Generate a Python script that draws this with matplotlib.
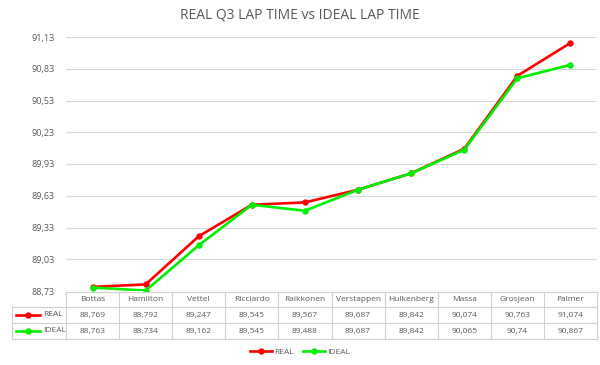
import matplotlib
matplotlib.use("Agg")
import matplotlib.pyplot as plt
import matplotlib.transforms as mtransforms
from matplotlib.lines import Line2D

drivers = ["Bottas", "Hamilton", "Vettel", "Ricciardo", "Raikkonen", "Verstappen",
           "Hulkenberg", "Massa", "Grosjean", "Palmer"]
real = [88.769, 88.792, 89.247, 89.545, 89.567, 89.687, 89.842, 90.074, 90.763, 91.074]
ideal = [88.763, 88.734, 89.162, 89.545, 89.488, 89.687, 89.842, 90.065, 90.74, 90.867]
real_labels = ["88,769", "88,792", "89,247", "89,545", "89,567", "89,687", "89,842", "90,074", "90,763", "91,074"]
ideal_labels = ["88,763", "88,734", "89,162", "89,545", "89,488", "89,687", "89,842", "90,065", "90,74", "90,867"]
yticks = [88.73, 89.03, 89.33, 89.63, 89.93, 90.23, 90.53, 90.83, 91.13]

plt.rcParams['font.family'] = ['Open Sans', 'DejaVu Sans']
TXT = "#595959"
GRID = "#d9d9d9"
RED = "#ff0000"
GREEN = "#00ee00"

fig = plt.figure(figsize=(6.0, 3.65), dpi=100)
ax = fig.add_axes([66/600, 1-291/365, (597-66)/600, (291-37)/365])

x = list(range(len(drivers)))
ax.plot(x, real, color=RED, lw=1.9, marker='o', ms=3.6, zorder=3, solid_capstyle='round')
ax.plot(x, ideal, color=GREEN, lw=1.9, marker='o', ms=3.6, zorder=3, solid_capstyle='round')

ax.set_xlim(-0.5, len(drivers)-0.5)
ax.set_ylim(yticks[0], yticks[-1])
ax.set_yticks(yticks)
ax.set_yticklabels([f"{v:.2f}".replace('.', ',') for v in yticks], fontsize=6.5, color=TXT)
ax.tick_params(axis='y', length=0, pad=8)
ax.set_xticks([])
ax.grid(axis='y', color=GRID, lw=0.8)
for s in ax.spines.values():
    s.set_visible(False)

fig.text(0.5, 1-15/365, "REAL Q3 LAP TIME vs IDEAL LAP TIME", ha='center', va='center',
         fontsize=10, color=TXT)

# table (x in data coords, y in axes coords)
trans = mtransforms.blended_transform_factory(ax.transData, ax.transAxes)
H = 254.0
def ya(py):
    return (291 - py) / H
rows_y = [292, 307, 323, 339]
lc = "#d0d0d0"
xl = -0.5 - (66 - 12) / (531 / 10)
ax.plot([-0.5, 9.5], [ya(rows_y[0])]*2, transform=trans, color=lc, lw=0.8, clip_on=False)
for yy in rows_y[1:]:
    ax.plot([xl, 9.5], [ya(yy)]*2, transform=trans, color=lc, lw=0.8, clip_on=False)
for i in range(11):
    ax.plot([i-0.5]*2, [ya(rows_y[0]), ya(rows_y[3])], transform=trans, color=lc, lw=0.8, clip_on=False)
ax.plot([xl]*2, [ya(rows_y[1]), ya(rows_y[3])], transform=trans, color=lc, lw=0.8, clip_on=False)

for i, d in enumerate(drivers):
    ax.text(i, ya((rows_y[0]+rows_y[1])/2), d, transform=trans, ha='center', va='center', fontsize=6, color=TXT)
    ax.text(i, ya((rows_y[1]+rows_y[2])/2), real_labels[i], transform=trans, ha='center', va='center', fontsize=6, color=TXT)
    ax.text(i, ya((rows_y[2]+rows_y[3])/2), ideal_labels[i], transform=trans, ha='center', va='center', fontsize=6, color=TXT)

for k, (name, col) in enumerate([("REAL", RED), ("IDEAL", GREEN)]):
    yc = ya((rows_y[1+k]+rows_y[2+k])/2)
    x0 = xl + 0.08
    ax.add_line(Line2D([x0, x0+0.45], [yc, yc], transform=trans, color=col, lw=1.9, clip_on=False))
    ax.add_line(Line2D([x0+0.225], [yc], transform=trans, color=col, marker='o', ms=3.6, clip_on=False))
    ax.text(x0+0.5, yc, name, transform=trans, ha='left', va='center', fontsize=6, color=TXT)

handles = [Line2D([], [], color=RED, lw=1.9, marker='o', ms=3.6),
           Line2D([], [], color=GREEN, lw=1.9, marker='o', ms=3.6)]
fig.legend(handles, ["REAL", "IDEAL"], loc='center', bbox_to_anchor=(0.5, 1-352/365), ncol=2,
           frameon=False, fontsize=6, labelcolor=TXT, handlelength=2.7, columnspacing=1.0,
           handletextpad=0.3)

fig.savefig("out.png", dpi=100, facecolor='white')
